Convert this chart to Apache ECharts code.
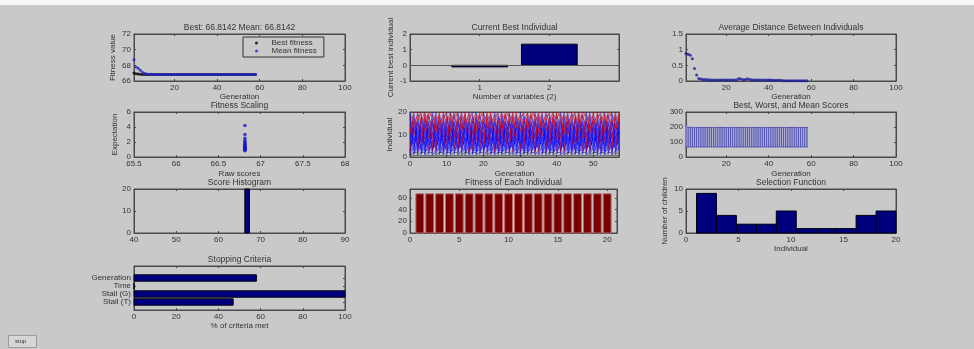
<!DOCTYPE html>
<html>
<head>
<meta charset="utf-8">
<script src="https://cdn.jsdelivr.net/npm/echarts@6/dist/echarts.min.js"></script>
<style>html,body{margin:0;padding:0;background:#c9c9c9}#ga{width:974px;height:349px}</style>
</head>
<body>
<div id="ga"></div>
<script>
// values (58 generations, population of 20)

var bestFitness = [
  67.02, 66.93, 66.88, 66.85, 66.83, 66.82, 66.82, 66.815, 66.815, 66.815,
  66.8142, 66.8142, 66.8142, 66.8142, 66.8142, 66.8142, 66.8142, 66.8142, 66.8142, 66.8142,
  66.8142, 66.8142, 66.8142, 66.8142, 66.8142, 66.8142, 66.8142, 66.8142, 66.8142, 66.8142,
  66.8142, 66.8142, 66.8142, 66.8142, 66.8142, 66.8142, 66.8142, 66.8142, 66.8142, 66.8142,
  66.8142, 66.8142, 66.8142, 66.8142, 66.8142, 66.8142, 66.8142, 66.8142, 66.8142, 66.8142,
  66.8142, 66.8142, 66.8142, 66.8142, 66.8142, 66.8142, 66.8142, 66.8142
];
var meanFitness = [
  68.72, 67.80, 67.62, 67.38, 67.12, 66.98, 66.90, 66.87, 66.85, 66.84,
  66.84, 66.83, 66.83, 66.83, 66.82, 66.82, 66.82, 66.82, 66.82, 66.82,
  66.82, 66.82, 66.82, 66.82, 66.83, 66.84, 66.83, 66.82, 66.83, 66.83,
  66.82, 66.82, 66.82, 66.82, 66.82, 66.82, 66.82, 66.82, 66.82, 66.82,
  66.82, 66.82, 66.82, 66.82, 66.82, 66.82, 66.82, 66.82, 66.82, 66.82,
  66.82, 66.82, 66.82, 66.82, 66.82, 66.8142, 66.8142, 66.8142
];
var avgDistance = [
  0.88, 0.85, 0.82, 0.71, 0.40, 0.19, 0.08, 0.06, 0.05, 0.05,
  0.04, 0.04, 0.03, 0.03, 0.03, 0.03, 0.03, 0.03, 0.03, 0.03,
  0.03, 0.03, 0.03, 0.03, 0.04, 0.08, 0.06, 0.04, 0.05, 0.07,
  0.05, 0.04, 0.03, 0.03, 0.03, 0.03, 0.03, 0.03, 0.03, 0.03,
  0.03, 0.02, 0.02, 0.02, 0.02, 0.02, 0.01, 0.01, 0.01, 0.01,
  0.01, 0.01, 0.01, 0.01, 0.01, 0.01, 0.01, 0.01
];
var worstScore = [
  212, 199, 197, 197, 197, 197, 197, 197, 197, 197,
  197, 197, 197, 197, 197, 197, 197, 197, 197, 197,
  197, 197, 197, 197, 197, 197, 197, 197, 197, 197,
  197, 197, 197, 197, 197, 197, 197, 197, 197, 197,
  197, 197, 197, 197, 197, 197, 197, 197, 197, 197,
  197, 197, 197, 197, 197, 197, 197, 197
];

var bestIndividual = [-0.1, 1.35];

var rawScores = [66.8142, 66.8142, 66.8142, 66.8142, 66.8142, 66.8142, 66.8142, 66.8142, 66.8142, 66.8142,
                 66.8142, 66.8142, 66.8142, 66.8142, 66.8142, 66.8142, 66.8142, 66.8142, 66.8142, 66.8142];
var expectation = [4.2, 3.0, 2.5, 2.2, 2.0, 1.8, 1.7, 1.6, 1.5, 1.4,
                   1.35, 1.3, 1.25, 1.2, 1.15, 1.1, 1.05, 1.0, 0.95, 0.85];

var scoreBinCentres = [66.8142];
var scoreBinCounts = [20];

var fitnessEach = [66.81, 66.81, 66.82, 66.81, 66.81, 66.82, 66.81, 66.81, 66.81, 66.82,
                   66.81, 66.81, 66.81, 66.82, 66.81, 66.81, 66.81, 66.82, 66.81, 66.81];

var selectionCounts = [9, 4, 2, 2, 5, 1, 1, 1, 4, 5];

var stopLabels = ['Stall (T)', 'Stall (G)', 'Time', 'Generation'];
var stopValues = [47, 100, 0, 58];

// genealogy: first / second parent of each child, E = elite, C = crossover, M = mutation
var childKind = 'EECCCCCCCCCCCCCCMMMM';
var parentsA = [
  [1, 1, 4, 9, 2, 15, 7, 11, 3, 18, 6, 13, 1, 20, 8, 5, 12, 17, 2, 10],
  [1, 2, 6, 3, 14, 1, 19, 8, 10, 5, 2, 16, 11, 7, 4, 1, 9, 15, 13, 20],
  [1, 1, 12, 5, 8, 2, 17, 3, 20, 9, 1, 6, 14, 10, 4, 7, 11, 2, 18, 16],
  [1, 2, 3, 16, 1, 11, 5, 19, 7, 2, 13, 8, 4, 12, 1, 18, 6, 10, 3, 15],
  [1, 1, 9, 2, 6, 20, 4, 14, 1, 8, 17, 3, 10, 5, 16, 2, 19, 7, 12, 11],
  [1, 2, 5, 13, 3, 7, 1, 10, 15, 4, 9, 19, 2, 6, 11, 14, 3, 20, 8, 17],
  [1, 1, 18, 7, 11, 3, 14, 2, 6, 16, 1, 10, 20, 4, 9, 13, 5, 8, 15, 2]
];
var parentsB = [
  [0, 0, 10, 1, 17, 6, 12, 4, 19, 2, 14, 7, 9, 3, 15, 11, 0, 0, 0, 0],
  [0, 0, 2, 18, 9, 13, 1, 15, 5, 20, 8, 3, 6, 17, 12, 10, 0, 0, 0, 0],
  [0, 0, 7, 15, 1, 19, 10, 6, 13, 2, 16, 4, 8, 1, 20, 3, 0, 0, 0, 0],
  [0, 0, 14, 4, 20, 9, 2, 12, 1, 17, 5, 11, 18, 3, 7, 6, 0, 0, 0, 0],
  [0, 0, 3, 11, 16, 1, 13, 5, 18, 12, 2, 20, 7, 15, 1, 9, 0, 0, 0, 0],
  [0, 0, 19, 8, 12, 2, 16, 9, 4, 11, 1, 14, 5, 18, 10, 7, 0, 0, 0, 0],
  [0, 0, 1, 12, 5, 20, 8, 17, 3, 9, 15, 2, 11, 1, 6, 19, 0, 0, 0, 0]
];
var genealogySteps = 57;

var ink = '#333';
var frame = '#4a4a4a';
var font = 'Liberation Sans, Arial, sans-serif';

// left, top, width, height of each axes box
var boxes = [
  [134, 34, 211, 47], [410, 34, 209, 47], [686, 34, 210, 47],
  [134, 112, 211, 45], [410, 112, 209, 45], [686, 112, 210, 45],
  [134, 189, 211, 44], [410, 189, 207, 44], [686, 189, 210, 44],
  [134, 266, 211, 44]
];

var option = {
  animation: false,
  backgroundColor: '#c9c9c9',
  textStyle: { fontFamily: font },
  grid: [], xAxis: [], yAxis: [], title: [], series: []
};

function makeAxis(gi, a, pos, main) {
  return {
    type: 'value', gridIndex: gi, position: pos, min: a.min, max: a.max,
    name: main && a.name ? a.name : '', nameLocation: 'middle', nameGap: a.gap || 12,
    nameTextStyle: { fontSize: 8, color: ink, fontFamily: font },
    axisLine: { show: true, onZero: false, lineStyle: { color: frame, width: 1 } },
    axisTick: { show: true, inside: true, length: 2, customValues: a.ticks, lineStyle: { color: frame } },
    axisLabel: { show: main, customValues: a.ticks, fontSize: 8, color: ink, fontFamily: font, margin: 3, formatter: a.fmt },
    splitLine: { show: false }
  };
}

function panel(i, title, xa, ya) {
  var b = boxes[i];
  option.grid.push({ left: b[0], top: b[1], width: b[2], height: b[3], show: true,
    borderColor: frame, borderWidth: 1, backgroundColor: 'transparent' });
  option.xAxis.push(makeAxis(i, xa, 'bottom', true), makeAxis(i, xa, 'top', false));
  option.yAxis.push(makeAxis(i, ya, 'left', true), makeAxis(i, ya, 'right', false));
  option.title.push({ text: title, left: b[0] + b[2] / 2, top: b[1] - 11, textAlign: 'center', padding: 0,
    textStyle: { fontSize: 8.5, fontWeight: 'normal', color: ink, fontFamily: font } });
}

function onPanel(i, s) {
  s.xAxisIndex = 2 * i;
  s.yAxisIndex = 2 * i;
  option.series.push(s);
}

function rectRenderer(fill, stroke) {
  return function (params, api) {
    var p0 = api.coord([api.value(0), api.value(2)]);
    var p1 = api.coord([api.value(1), api.value(3)]);
    return {
      type: 'rect',
      shape: { x: Math.min(p0[0], p1[0]), y: Math.min(p0[1], p1[1]),
               width: Math.abs(p1[0] - p0[0]), height: Math.abs(p1[1] - p0[1]) },
      style: { fill: fill, stroke: stroke, lineWidth: stroke ? 1 : 0 }
    };
  };
}

var genTicks = [20, 40, 60, 80, 100];

panel(0, 'Best: 66.8142 Mean: 66.8142',
  { min: 1, max: 100, ticks: genTicks, name: 'Generation', gap: 11 },
  { min: 66, max: 72, ticks: [66, 68, 70, 72], name: 'Fitness value', gap: 17 });
panel(1, 'Current Best Individual',
  { min: 0, max: 3, ticks: [1, 2], name: 'Number of variables (2)', gap: 11 },
  { min: -1, max: 2, ticks: [-1, 0, 1, 2], name: 'Current best individual', gap: 15 });
panel(2, 'Average Distance Between Individuals',
  { min: 1, max: 100, ticks: genTicks, name: 'Generation', gap: 11 },
  { min: 0, max: 1.5, ticks: [0, 0.5, 1, 1.5] });
panel(3, 'Fitness Scaling',
  { min: 65.5, max: 68, ticks: [65.5, 66, 66.5, 67, 67.5, 68], name: 'Raw scores', gap: 13 },
  { min: 0, max: 6, ticks: [0, 2, 4, 6], name: 'Expectation', gap: 15 });
panel(4, '',
  { min: 0, max: genealogySteps, ticks: [0, 10, 20, 30, 40, 50], name: 'Generation', gap: 13 },
  { min: 0, max: 20, ticks: [0, 10, 20], name: 'Individual', gap: 15 });
panel(5, 'Best, Worst, and Mean Scores',
  { min: 1, max: 100, ticks: genTicks, name: 'Generation', gap: 13 },
  { min: 0, max: 300, ticks: [0, 100, 200, 300] });
panel(6, 'Score Histogram',
  { min: 40, max: 90, ticks: [40, 50, 60, 70, 80, 90] },
  { min: 0, max: 20, ticks: [0, 10, 20] });
panel(7, 'Fitness of Each Individual',
  { min: 0, max: 21, ticks: [0, 5, 10, 15, 20] },
  { min: 0, max: 75, ticks: [0, 20, 40, 60] });
panel(8, 'Selection Function',
  { min: 0, max: 20, ticks: [0, 5, 10, 15, 20], name: 'Individual', gap: 12 },
  { min: 0, max: 10, ticks: [0, 5, 10], name: 'Number of children', gap: 17 });
panel(9, 'Stopping Criteria',
  { min: 0, max: 100, ticks: [0, 20, 40, 60, 80, 100], name: '% of criteria met', gap: 11 },
  { min: 0, max: 5.5, ticks: [1, 2, 3, 4], fmt: function (v) { return stopLabels[v - 1]; } });

// 1: fitness per generation
onPanel(0, { type: 'scatter', name: 'Best fitness', symbolSize: 3, itemStyle: { color: '#000' },
  data: bestFitness.map(function (v, i) { return [i + 1, v]; }) });
onPanel(0, { type: 'scatter', name: 'Mean fitness', symbolSize: 3, itemStyle: { color: '#2222c8' },
  data: meanFitness.map(function (v, i) { return [i + 1, v]; }) });

// 2: current best individual
onPanel(1, { type: 'custom', renderItem: rectRenderer('#00007f', '#000010'), encode: { x: [0, 1], y: [2, 3] },
  data: bestIndividual.map(function (v, i) { return [i + 0.6, i + 1.4, 0, v]; }),
  markLine: { silent: true, symbol: 'none', label: { show: false },
    lineStyle: { color: '#555', width: 1, type: 'solid' }, data: [{ yAxis: 0 }] } });

// 3: average distance
onPanel(2, { type: 'scatter', symbolSize: 3, itemStyle: { color: '#1c1c9a' },
  data: avgDistance.map(function (v, i) { return [i + 1, v]; }) });

// 4: fitness scaling
onPanel(3, { type: 'scatter', symbolSize: 3.5, itemStyle: { color: '#1818c8' },
  data: rawScores.map(function (v, i) { return [v, expectation[i]]; }) });

// 5: genealogy
var crossLines = [], mutLines = [], eliteLines = [];
for (var g = 1; g <= genealogySteps; g++) {
  var row = (g - 1) % parentsA.length;
  for (var c = 0; c < 20; c++) {
    var kind = childKind[c];
    var a = parentsA[row][c], b = parentsB[row][c];
    var seg = { coords: [[g - 1, a], [g, c + 1]] };
    if (kind === 'E') eliteLines.push(seg);
    else if (kind === 'M') mutLines.push(seg);
    else {
      crossLines.push(seg);
      if (b) crossLines.push({ coords: [[g - 1, b], [g, c + 1]] });
    }
  }
}
onPanel(4, { type: 'lines', coordinateSystem: 'cartesian2d', silent: true, data: crossLines,
  lineStyle: { color: '#0000ff', width: 0.5, opacity: 0.75 } });
onPanel(4, { type: 'lines', coordinateSystem: 'cartesian2d', silent: true, data: mutLines,
  lineStyle: { color: '#e00000', width: 0.7, opacity: 0.8 } });
onPanel(4, { type: 'lines', coordinateSystem: 'cartesian2d', silent: true, data: eliteLines,
  lineStyle: { color: '#000', width: 0.8 } });

// 6: best / worst range per generation
onPanel(5, { type: 'custom', encode: { x: 0, y: [1, 2] },
  data: worstScore.map(function (w, i) { return [i + 1, bestFitness[i], w]; }),
  renderItem: function (params, api) {
    var lo = api.coord([api.value(0), api.value(1)]);
    var hi = api.coord([api.value(0), api.value(2)]);
    var half = api.size([0.5, 0])[0];
    var st = { stroke: '#5252b0', lineWidth: 1 };
    return { type: 'group', children: [
      { type: 'rect', shape: { x: lo[0] - half, y: hi[1], width: 2 * half, height: lo[1] - hi[1] },
        style: { fill: '#a9a9d6' } },
      { type: 'line', shape: { x1: lo[0], y1: lo[1], x2: hi[0], y2: hi[1] }, style: st },
      { type: 'line', shape: { x1: lo[0] - half, y1: lo[1], x2: lo[0] + half, y2: lo[1] }, style: st },
      { type: 'line', shape: { x1: hi[0] - half, y1: hi[1], x2: hi[0] + half, y2: hi[1] }, style: st }
    ] };
  } });

// 7: score histogram
onPanel(6, { type: 'custom', renderItem: rectRenderer('#00007f', '#000010'), encode: { x: [0, 1], y: [2, 3] },
  data: scoreBinCentres.map(function (v, i) { return [v - 0.55, v + 0.55, 0, scoreBinCounts[i]]; }) });

// 8: fitness of each individual
onPanel(7, { type: 'custom', renderItem: rectRenderer('#7a0000', '#b86a6a'), encode: { x: [0, 1], y: [2, 3] },
  data: fitnessEach.map(function (v, i) { return [i + 0.6, i + 1.4, 0, v]; }) });

// 9: selection histogram, 10 bins over individuals 1..20
var binWidth = (20 - 1) / selectionCounts.length;
onPanel(8, { type: 'custom', renderItem: rectRenderer('#00007f', '#000010'), encode: { x: [0, 1], y: [2, 3] },
  data: selectionCounts.map(function (n, i) { return [1 + i * binWidth, 1 + (i + 1) * binWidth, 0, n]; }) });

// 10: stopping criteria
onPanel(9, { type: 'custom', renderItem: rectRenderer('#00007f', '#000010'), encode: { x: [0, 1], y: [2, 3] },
  data: stopValues.map(function (v, i) { return [0, v, i + 0.6, i + 1.4]; }) });

option.legend = {
  data: ['Best fitness', 'Mean fitness'], left: 243, top: 37, orient: 'vertical',
  itemGap: 0, itemWidth: 20, itemHeight: 3, icon: 'circle', selectedMode: false,
  padding: [2, 7, 2, 12], borderColor: '#333', borderWidth: 1,
  textStyle: { fontSize: 8, color: ink, fontFamily: font, lineHeight: 8 }
};

option.graphic = [
  { type: 'rect', left: 0, top: 0, shape: { width: 974, height: 5 }, style: { fill: '#f6f6f6' } },
  { type: 'rect', left: 8, top: 335, shape: { width: 28, height: 12 },
    style: { fill: '#d6d6d6', stroke: '#9a9a9a', lineWidth: 1 } },
  { type: 'text', left: 15, top: 338, style: { text: 'stop', fontSize: 6, fill: '#333', fontFamily: font } }
];

var chart = echarts.init(document.getElementById('ga'));
chart.setOption(option);
</script>
</body>
</html>
